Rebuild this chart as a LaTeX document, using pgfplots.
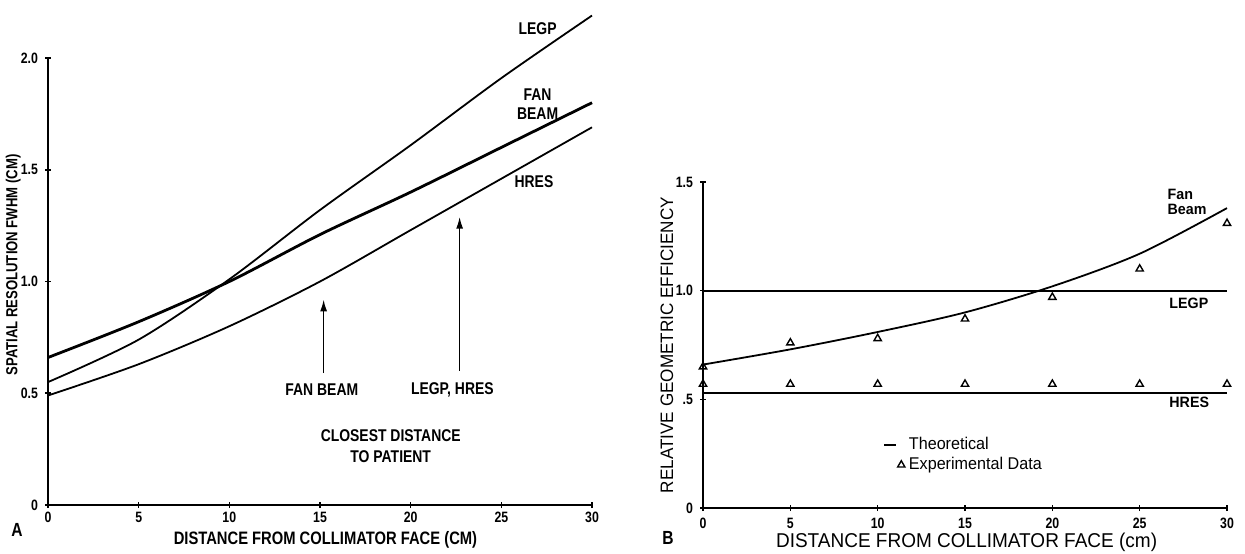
\documentclass[border=0pt]{standalone}
\usepackage{pgfplots}
\pgfplotsset{compat=1.18}
\usepackage{pgfplotstable}
\usepackage{fontspec}
\setmainfont{Liberation Sans}[FakeStretch=0.82]
\newfontfamily\wide{Liberation Sans}[FakeStretch=0.95]
\usetikzlibrary{arrows.meta}

% panel A: spatial resolution vs distance
\pgfplotstableread{
x   legp  fan   hres
0   0.55  0.66  0.49
5   0.74  0.82  0.63
10  1.01  1.00  0.80
15  1.32  1.21  1.00
20  1.61  1.40  1.23
25  1.91  1.60  1.46
30  2.19  1.80  1.69
}\resA
% panel B: relative geometric efficiency
\pgfplotstableread{
x   fan   fanexp  hresexp
0   0.66  0.65    0.57
5   0.73  0.76    0.57
10  0.81  0.78    0.57
15  0.90  0.87    0.57
20  1.02  0.97    0.57
25  1.17  1.10    0.57
30  1.38  1.31    0.57
}\effB

\begin{document}
\begin{tikzpicture}
\useasboundingbox (0,0) rectangle (622.5pt,-276.5pt);

\begin{axis}[
    at={(24pt,-252.5pt)}, anchor=south west,
    scale only axis, width=272pt, height=223.5pt,
    xmin=0, xmax=30, ymin=0, ymax=2,
    axis lines=left,
    axis line style={-, line width=1.4pt},
    xtick={0,5,...,30}, xticklabels={0,5,10,15,20,25,30},
    ytick={0,0.5,1,1.5,2}, yticklabels={0,0.5,1.0,1.5,2.0},
    major tick length=3pt,
    tick style={black, line width=0.8pt},
    tick label style={font=\bfseries\fontsize{7.5}{8.5}\selectfont},
    xticklabel style={yshift=1.5pt},
    xlabel={DISTANCE FROM COLLIMATOR FACE (CM)},
    ylabel={SPATIAL RESOLUTION FWHM (CM)},
    xlabel style={at={(axis description cs:0.51,-0.078)}, anchor=center,
        font=\bfseries\fontsize{9}{10}\selectfont},
    ylabel style={at={(axis description cs:-0.064,0.537)}, anchor=center,
        font=\bfseries\fontsize{8}{9}\selectfont},
    clip=false,
]
\addplot[line width=0.9pt, smooth] table[x=x, y=legp] {\resA};
\addplot[line width=1.4pt, smooth] table[x=x, y=fan] {\resA};
\addplot[line width=0.9pt, smooth] table[x=x, y=hres] {\resA};

\begin{scope}[font=\bfseries\fontsize{8.5}{9.5}\selectfont]
\node at (axis cs:27.0,2.13) {LEGP};
\node[align=center] at (axis cs:27.0,1.795) {FAN\\BEAM};
\node at (axis cs:26.8,1.445) {HRES};
\node at (axis cs:15.1,0.515) {FAN BEAM};
\node at (axis cs:22.3,0.515) {LEGP, HRES};
\node[align=center] at (axis cs:18.9,0.265) {CLOSEST DISTANCE\\[1pt]TO PATIENT};
\end{scope}
\draw[line width=0.8pt, -{Latex[length=6pt,width=3.5pt]}] (axis cs:15.2,0.59) -- (axis cs:15.2,0.92);
\draw[line width=0.8pt, -{Latex[length=6pt,width=3.5pt]}] (axis cs:22.7,0.60) -- (axis cs:22.7,1.29);
\end{axis}

\node[font=\bfseries\fontsize{9.5}{10}\selectfont] at (8.5pt,-265pt) {A};

\begin{axis}[
    at={(351.5pt,-254pt)}, anchor=south west,
    scale only axis, width=262pt, height=163pt,
    xmin=0, xmax=30, ymin=0, ymax=1.5,
    axis lines=left,
    axis line style={-, line width=1pt},
    xtick={0,5,...,30}, xticklabels={0,5,10,15,20,25,30},
    ytick={0,0.5,1,1.5}, yticklabels={0,.5,1.0,1.5},
    major tick length=3pt,
    tick style={black, line width=0.7pt},
    tick label style={font=\bfseries\fontsize{7.5}{8.5}\selectfont},
    xlabel={DISTANCE FROM COLLIMATOR FACE (cm)},
    ylabel={RELATIVE GEOMETRIC EFFICIENCY},
    xlabel style={at={(axis description cs:0.503,-0.105)}, anchor=center,
        font=\wide\fontsize{10}{11}\selectfont},
    ylabel style={at={(axis description cs:-0.069,0.5)}, anchor=center,
        font=\wide\fontsize{9}{10}\selectfont},
    legend style={draw=none, fill=none, at={(axis cs:10.3,0.245)}, anchor=west,
        font=\wide\fontsize{8.5}{9}\selectfont, inner sep=0pt, row sep=-1.5pt},
    legend cell align=left,
    clip=false,
]
\addplot[line width=0.9pt,
    legend image code/.code={\draw[line width=0.9pt] (0pt,0pt) -- (6pt,0pt);}]
    coordinates {(0,1.0) (30,1.0)};
\addlegendentry{Theoretical}
\addplot[only marks, mark=triangle, mark size=2.1pt, mark options={line width=0.7pt}]
    table[x=x, y=fanexp] {\effB};
\addlegendentry{Experimental Data}
\addplot[forget plot, only marks, mark=triangle, mark size=2.1pt, mark options={line width=0.7pt}]
    table[x=x, y=hresexp] {\effB};
\addplot[forget plot, line width=0.9pt] coordinates {(0,0.53) (30,0.53)};
\addplot[forget plot, line width=0.9pt, smooth] table[x=x, y=fan] {\effB};

\begin{scope}[font=\wide\bfseries\fontsize{7.5}{7.5}\selectfont]
\node[anchor=west, align=left] at (axis cs:26.2,1.41) {Fan\\Beam};
\node[anchor=west] at (axis cs:26.3,0.94) {LEGP};
\node[anchor=west] at (axis cs:26.3,0.485) {HRES};
\end{scope}
\end{axis}

\node[font=\bfseries\fontsize{9.5}{10}\selectfont] at (334pt,-269pt) {B};
\end{tikzpicture}
\end{document}
